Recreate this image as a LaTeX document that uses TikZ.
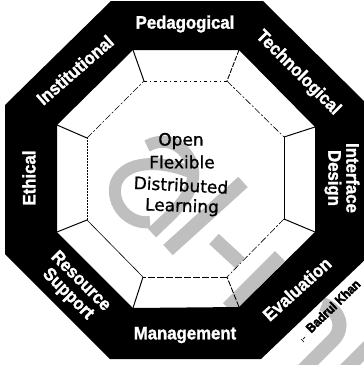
\documentclass[tikz,border=0pt]{standalone}
\usepackage{fontspec}
\newfontfamily\labelfont[FakeStretch=0.93,FakeBold=1.6]{Liberation Sans}
\newfontfamily\authorfont[FakeStretch=0.9,FakeBold=3]{Liberation Sans}
\newfontfamily\centrefont[FakeBold=1]{DejaVu Sans}
\tikzset{
  facelabel/.style={text=white,font=\labelfont\bfseries\fontsize{18}{19}\selectfont,align=center,inner sep=0pt},
  centrelabel/.style={text=black,font=\centrefont\fontsize{17}{18}\selectfont,inner sep=0pt},
  mark1/.style={draw=wm,line width=14pt},
  solidedge/.style={black,line width=1pt},
  thinedge/.style={black,line width=0.6pt},
  sparse/.style={black,line width=0.6pt,dash pattern=on 3pt off 3pt on 1pt off 3pt},
  dashdot/.style={black,line width=0.6pt,dash pattern=on 7pt off 2pt on 2pt off 2pt},
  heavydash/.style={black,line width=0.9pt,dash pattern=on 7pt off 2pt}
}
\definecolor{wm}{gray}{0.75}
\begin{document}
\begin{tikzpicture}[x=1pt,y=-1pt]
\useasboundingbox (0,0) rectangle (364,365);
\fill[white] (0,0) rectangle (364,365);
% watermark
\draw[mark1] (243,182) -- (168,250);
\draw[mark1,line width=12pt] (147,146) .. controls (172,132) and (196,155) .. (193,178) .. controls (190,200) and (170,215) .. (152,233);
\draw[mark1,line width=12pt] (190,172) .. controls (160,160) and (125,160) .. (116,183) .. controls (110,205) and (130,225) .. (150,222);
\draw[mark1] (280,256) -- (228,308);
\draw[mark1] (214,239) -- (240,263);
\draw[mark1] (322,304) .. controls (340,310) and (345,328) .. (333,340) -- (295,378);
\draw[mark1] (375,340) -- (335,380);
% octagon ring
\fill[black,even odd rule]
 (111,1) -- (263,1) -- (370,107) -- (370,255) -- (261,359) -- (110,359) -- (5,254) -- (5,105) -- cycle
 (133,50) -- (239,50) -- (315,127) -- (315,232) -- (239,307) -- (133,308) -- (57,232) -- (57,125) -- cycle;
\fill[white] (364,0) rectangle (370,365);
% inner octagon
\coordinate (a1) at (144,81); \coordinate (a2) at (227,81); \coordinate (a3) at (284,137); \coordinate (a4) at (284,219);
\coordinate (a5) at (227,277); \coordinate (a6) at (143,277); \coordinate (a7) at (87,220); \coordinate (a8) at (87,138);
\draw[sparse] (a1) -- (a2);
\draw[dashdot] (a2) -- (a3);
\draw[thinedge] (a3) -- (a4);
\draw[dashdot] (a4) -- (a5);
\draw[heavydash] (a5) -- (a6);
\draw[thinedge] (a6) -- (a7);
\draw[black,line width=0.8pt,dash pattern=on 2pt off 1pt] (a7) -- (a8);
\draw[dashdot] (a8) -- (a1);
\draw[solidedge] (133,50) -- (a1);
\draw[heavydash,dash pattern=on 5pt off 1.5pt] (239,50) -- (a2);
\draw[solidedge] (315,127) -- (a3);
\draw[solidedge] (315,232) -- (a4);
\draw[heavydash,dash pattern=on 6pt off 1.5pt] (239,307) -- (a5);
\draw[solidedge] (133,308) -- (a6);
\draw[solidedge] (57,232) -- (a7);
\draw[solidedge] (57,125) -- (a8);
% labels
\node[facelabel] (ped) at (185,24) {Pedagogical};
\node[facelabel,rotate=-45] (tech) at (298,73) {Technological};
\node[facelabel,rotate=-90] (iface) at (342,178) {Interface\\[-1pt]Design};
\node[facelabel,rotate=42] (eval) at (297,289) {Evaluation};
\node[facelabel] (mgmt) at (185,335) {Management};
\node[facelabel,rotate=-45] (res) at (74,288) {Resource\\[-1pt]Support};
\node[facelabel,rotate=90] (eth) at (29,178) {Ethical};
\node[facelabel,rotate=41] (inst) at (75,70) {Institutional};
\node[centrelabel] (c1) at (181,141) {Open};
\node[centrelabel] (c2) at (182,162) {Flexible};
\node[centrelabel,rotate=-3] (c3) at (181,185) {Distributed};
\node[centrelabel,rotate=-2] (c4) at (182,207) {Learning};
\node[text=black,font=\authorfont\bfseries\fontsize{13}{13}\selectfont,rotate=44,inner sep=0pt] (auth) at (333,306) {Badrul Khan};
\draw[black,line width=0.7pt] (301,339) -- (304,342) (305,337) -- (303,339);
\end{tikzpicture}
\end{document}
